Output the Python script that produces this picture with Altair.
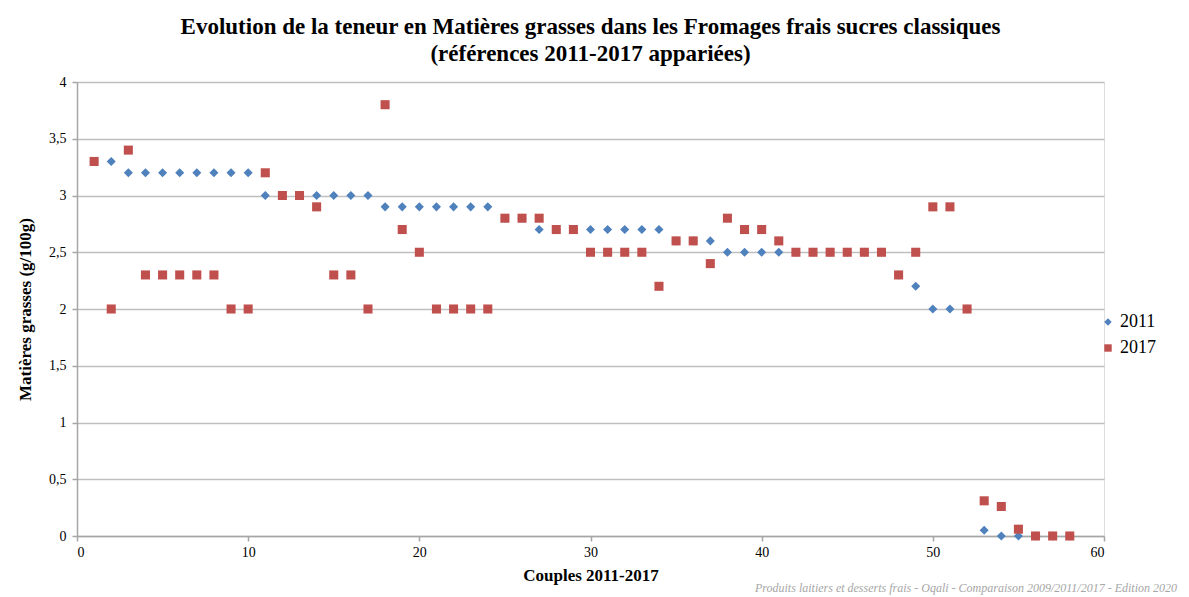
import altair as alt
import pandas as pd

couples = list(range(1, 59))
mg_2011 = [3.3, 3.3, 3.2, 3.2, 3.2, 3.2, 3.2, 3.2, 3.2, 3.2,
           3.0, 3.0, 3.0, 3.0, 3.0, 3.0, 3.0, 2.9, 2.9, 2.9,
           2.9, 2.9, 2.9, 2.9, 2.8, 2.8, 2.7, 2.7, 2.7, 2.7,
           2.7, 2.7, 2.7, 2.7, 2.6, 2.6, 2.6, 2.5, 2.5, 2.5,
           2.5, 2.5, 2.5, 2.5, 2.5, 2.5, 2.5, 2.3, 2.2, 2.0,
           2.0, 2.0, 0.05, 0.0, 0.0, 0.0, 0.0, 0.0]
mg_2017 = [3.3, 2.0, 3.4, 2.3, 2.3, 2.3, 2.3, 2.3, 2.0, 2.0,
           3.2, 3.0, 3.0, 2.9, 2.3, 2.3, 2.0, 3.8, 2.7, 2.5,
           2.0, 2.0, 2.0, 2.0, 2.8, 2.8, 2.8, 2.7, 2.7, 2.5,
           2.5, 2.5, 2.5, 2.2, 2.6, 2.6, 2.4, 2.8, 2.7, 2.7,
           2.6, 2.5, 2.5, 2.5, 2.5, 2.5, 2.5, 2.3, 2.5, 2.9,
           2.9, 2.0, 0.31, 0.26, 0.06, 0.0, 0.0, 0.0]
series_names = ["2011", "2017"]
series_colors = ["#4F81BD", "#C0504D"]
series_shapes = ["diamond", "square"]

title_lines = ["Evolution de la teneur en Matières grasses dans les Fromages frais sucres classiques",
               "(références 2011-2017 appariées)"]
x_title = "Couples 2011-2017"
y_title = "Matières grasses (g/100g)"
footer = "Produits laitiers et desserts frais - Oqali - Comparaison 2009/2011/2017  - Edition 2020"

df = pd.DataFrame({
    "couple": couples + couples,
    "mg": mg_2011 + mg_2017,
    "serie": [series_names[0]] * len(couples) + [series_names[1]] * len(couples),
    "ordre": [0] * len(couples) + [1] * len(couples),
})

FONT = "Liberation Serif"

points = alt.Chart(df).mark_point(filled=True, opacity=1, size=82).encode(
    x=alt.X("couple:Q", title=x_title,
            scale=alt.Scale(domain=[0, 60], nice=False, zero=True),
            axis=alt.Axis(values=[0, 10, 20, 30, 40, 50, 60], grid=False,
                          domainColor="#a6a6a6", domainWidth=1.5, tickColor="#a6a6a6",
                          tickSize=5, tickWidth=1.5, labelFont=FONT, labelFontSize=14,
                          labelColor="#000000", labelPadding=4,
                          titleFont=FONT, titleFontSize=17, titleFontWeight="bold",
                          titleColor="#000000", titlePadding=8)),
    y=alt.Y("mg:Q", title=y_title,
            scale=alt.Scale(domain=[0, 4], nice=False),
            axis=alt.Axis(values=[0, 0.5, 1, 1.5, 2, 2.5, 3, 3.5, 4],
                          labelExpr="replace(format(datum.value, '~g'), '.', ',')",
                          grid=True, gridColor="#bfbfbf", gridWidth=1.5,
                          domainColor="#a6a6a6", domainWidth=1.5, tickColor="#a6a6a6",
                          tickSize=5, tickWidth=1.5, labelFont=FONT, labelFontSize=14,
                          labelColor="#000000", labelPadding=6,
                          titleFont=FONT, titleFontSize=17, titleFontWeight="bold",
                          titleColor="#000000", titlePadding=14)),
    color=alt.Color("serie:N", scale=alt.Scale(domain=series_names, range=series_colors),
                    legend=alt.Legend(title=None, orient="none", legendX=1022, legendY=231,
                                      labelFont=FONT, labelFontSize=18, labelColor="#000000",
                                      symbolSize=55, rowPadding=8, labelOffset=3)),
    shape=alt.Shape("serie:N", scale=alt.Scale(domain=series_names, range=series_shapes)),
    order=alt.Order("ordre:Q"),
)

foot = alt.Chart(pd.DataFrame({"t": [footer]})).mark_text(
    align="right", baseline="alphabetic", font=FONT, fontSize=12,
    fontStyle="italic", color="#a6a6a6"
).encode(text="t:N", x=alt.value(1100), y=alt.value(510))

chart = alt.layer(points, foot).properties(
    width=1027, height=454,
    title=alt.Title(title_lines, font=FONT, fontSize=23, fontWeight="bold",
                    color="#000000", anchor="middle", offset=9, lineHeight=27),
    padding={"left": 69, "top": 74, "right": 77, "bottom": 61},
    autosize=alt.AutoSizeParams(type="none"),
).configure_view(stroke=None).configure(background="#ffffff")

chart.save("out.html", embed_options={"renderer": "svg", "actions": False})
